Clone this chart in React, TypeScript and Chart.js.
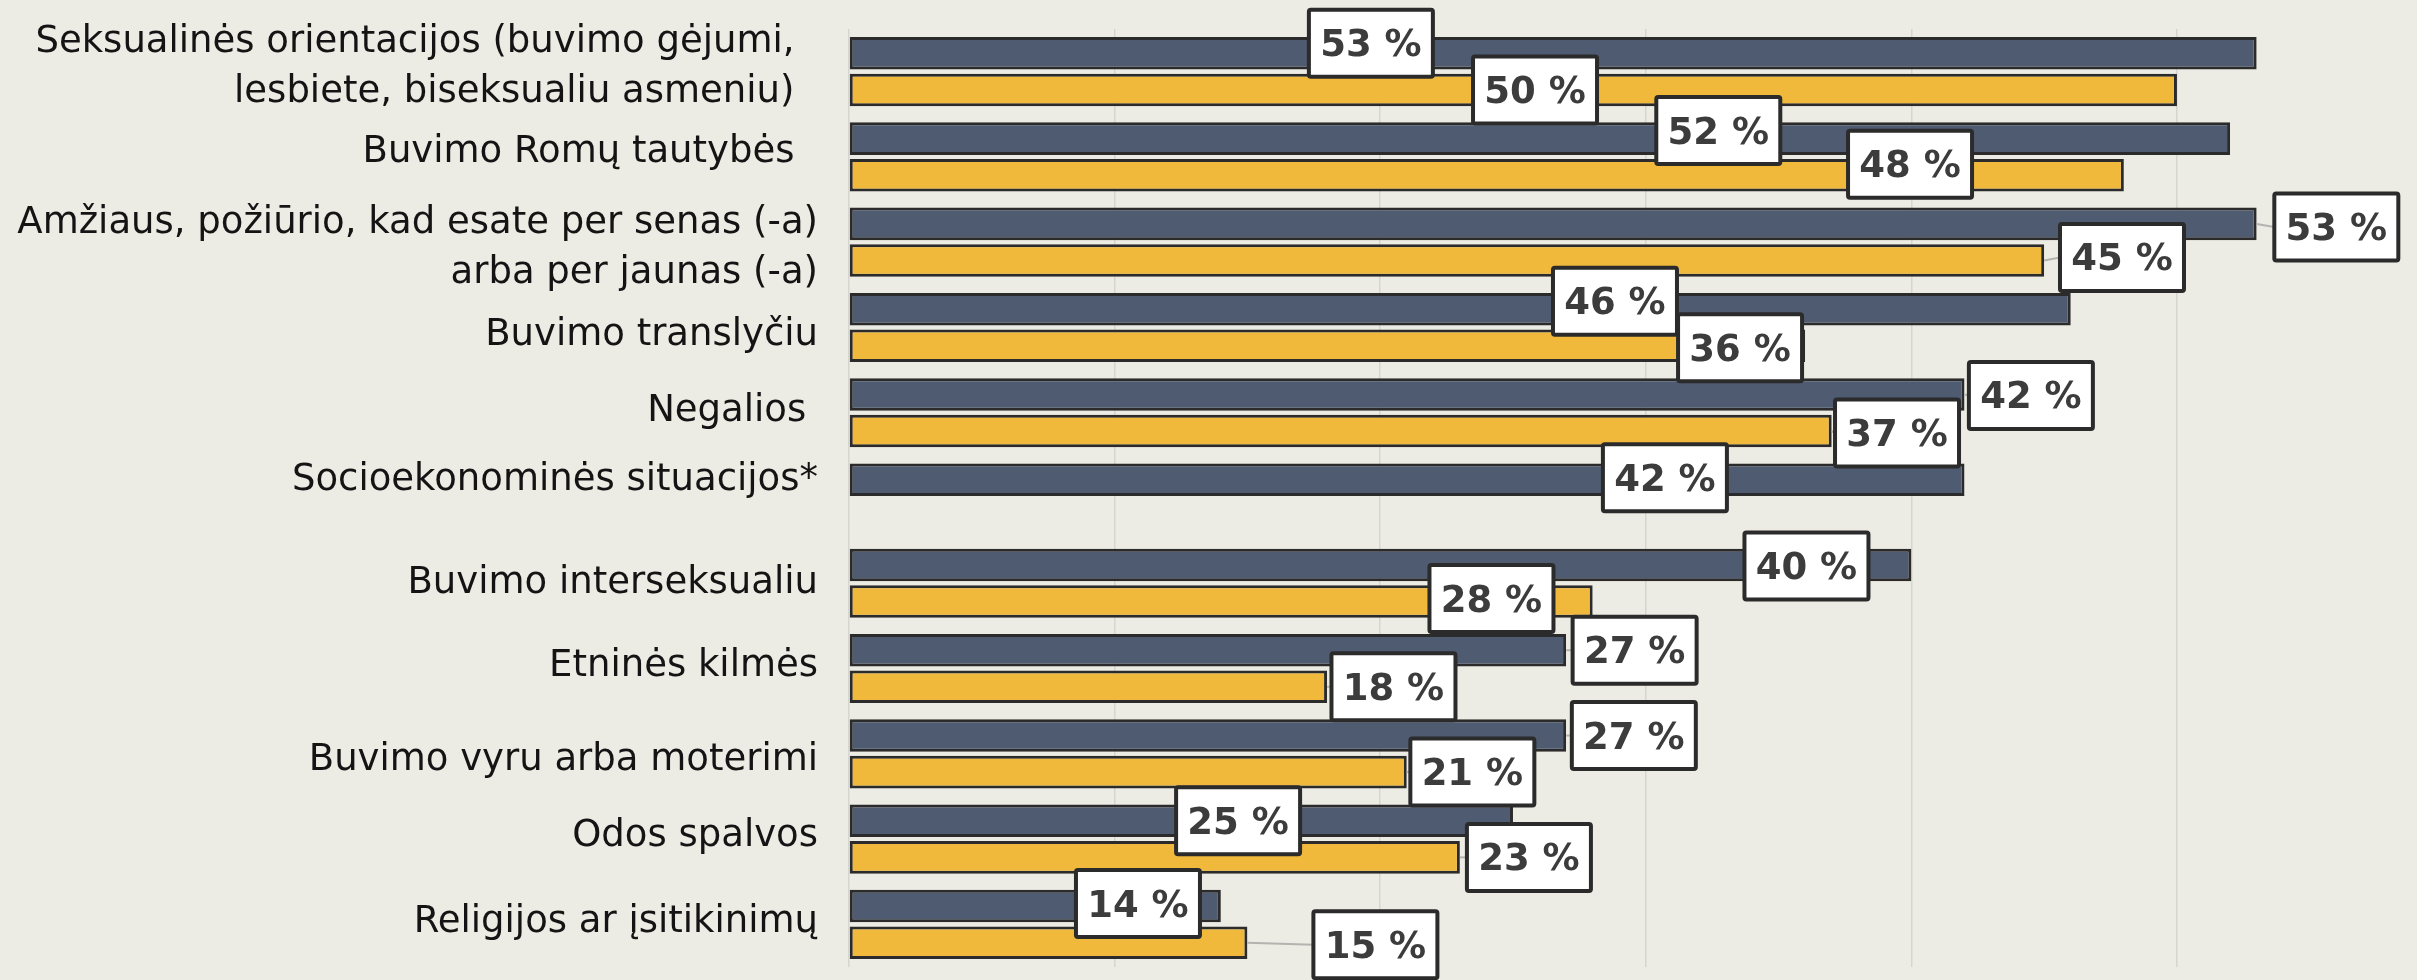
import React, { useEffect, useRef } from "react";
import { Chart, registerables } from "chart.js";

Chart.register(...registerables);

// ---- data ----
const categories: string[][] = [
  ["Seksualinės orientacijos (buvimo gėjumi,  ", "lesbiete, biseksualiu asmeniu)  "],
  ["Buvimo Romų tautybės  "],
  ["Amžiaus, požiūrio, kad esate per senas (-a)", "arba per jaunas (-a)"],
  ["Buvimo translyčiu"],
  ["Negalios "],
  ["Socioekonominės situacijos*"],
  ["Buvimo interseksualiu"],
  ["Etninės kilmės"],
  ["Buvimo vyru arba moterimi"],
  ["Odos spalvos"],
  ["Religijos ar įsitikinimų"],
];
const navyValues: (number | null)[] = [53, 52, 53, 46, 42, 42, 40, 27, 27, 25, 14];
const yellowValues: (number | null)[] = [50, 48, 45, 36, 37, null, 28, 18, 21, 23, 15];

// label placement (value-axis position of label centre, vertical nudge in px)
const navyLabelAt: (number | null)[] = [19.65, 32.73, 56.0, 28.84, 44.5, 30.72, 36.05, 29.58, 29.55, 14.65, 10.88];
const navyLabelDy: (number | null)[] = [-10, -8, 3, -8, 1, -2, 1, 0, 0, 0, -2.5];
const yellowLabelAt: (number | null)[] = [25.83, 39.95, 47.93, 33.55, 39.46, null, 24.19, 20.5, 23.47, 25.6, 19.82];
const yellowLabelDy: (number | null)[] = [0, -11, -3, 2, 2, null, -3, 0, 0, 0, 2];
const categoryLabelNudge: number[] = [-8, -8.6, 2, 4, -5, -22, -4, -6.5, 3, -7, -5.7];

// ---- styles ----
const BG = "#ecebe4";
const NAVY = "#4e5b70";
const YELLOW = "#f0b93b";
const BORDER = "#2b2b2b";
const GRID = "#d6d5d0";
const X_MAX = 59;
const AXIS_LEFT = 849;

export default function App() {
  const ref = useRef<HTMLCanvasElement>(null);

  useEffect(() => {
    const canvas = ref.current!;

    const drawBox = (ctx: CanvasRenderingContext2D, cx: number, cy: number, text: string) => {
      const w = 128;
      const h = 71;
      ctx.save();
      ctx.beginPath();
      const x0 = cx - w / 2 + 2;
      const y0 = cy - h / 2 + 2;
      if ((ctx as any).roundRect) (ctx as any).roundRect(x0, y0, w - 4, h - 4, 2);
      else ctx.rect(x0, y0, w - 4, h - 4);
      ctx.fillStyle = "#ffffff";
      ctx.fill();
      ctx.lineWidth = 4;
      ctx.strokeStyle = BORDER;
      ctx.stroke();
      ctx.fillStyle = "#3c3c3c";
      ctx.font = 'bold 37px "DejaVu Sans"';
      ctx.textAlign = "center";
      ctx.textBaseline = "alphabetic";
      ctx.fillText(text, cx, cy + 13);
      ctx.restore();
    };

    const labelPlugin = {
      id: "customLabels",
      afterDatasetsDraw(chart: any) {
        const ctx: CanvasRenderingContext2D = chart.ctx;
        const xs = chart.scales.x;
        const sets = [
          { meta: chart.getDatasetMeta(0), values: navyValues, at: navyLabelAt, dy: navyLabelDy },
          { meta: chart.getDatasetMeta(1), values: yellowValues, at: yellowLabelAt, dy: yellowLabelDy },
        ];
        const items: { cx: number; cy: number; text: string; endX: number; barY: number }[] = [];
        categories.forEach((_, i) => {
          sets.forEach((s) => {
            const v = s.values[i];
            const at = s.at[i];
            if (v == null || at == null) return;
            const bar = s.meta.data[i];
            items.push({
              cx: xs.getPixelForValue(at),
              cy: bar.y + (s.dy[i] || 0),
              text: `${v} %`,
              endX: bar.x,
              barY: bar.y,
            });
          });
        });
        // leader lines
        ctx.save();
        ctx.strokeStyle = "#b3b3b0";
        ctx.lineWidth = 2;
        items.forEach((it) => {
          const left = it.cx - 64;
          if (left > it.endX + 1) {
            ctx.beginPath();
            ctx.moveTo(it.endX, it.barY);
            ctx.lineTo(left + 2, it.cy);
            ctx.stroke();
          }
        });
        ctx.restore();
        items.forEach((it) => drawBox(ctx, it.cx, it.cy, it.text));
      },
      afterDraw(chart: any) {
        const ctx: CanvasRenderingContext2D = chart.ctx;
        const ys = chart.scales.y;
        ctx.save();
        ctx.font = '37px "DejaVu Sans"';
        ctx.fillStyle = "#141414";
        ctx.textAlign = "right";
        ctx.textBaseline = "alphabetic";
        const right = AXIS_LEFT - 31;
        categories.forEach((lines, i) => {
          const mid = ys.getPixelForValue(i) + categoryLabelNudge[i];
          const lh = 50;
          const start = mid - ((lines.length - 1) * lh) / 2;
          lines.forEach((line, k) => {
            ctx.fillText(line, right, start + k * lh + 13.5);
          });
        });
        ctx.restore();
      },
    };

    const chart = new Chart(canvas, {
      type: "bar",
      data: {
        labels: categories.map((c) => c.join(" ").trim()),
        datasets: [
          {
            label: "navy",
            data: navyValues,
            backgroundColor: NAVY,
            borderColor: BORDER,
            borderWidth: 3,
            borderSkipped: false,
            barPercentage: 0.89,
            categoryPercentage: 0.858,
          },
          {
            label: "yellow",
            data: yellowValues,
            backgroundColor: YELLOW,
            borderColor: BORDER,
            borderWidth: 3,
            borderSkipped: false,
            barPercentage: 0.89,
            categoryPercentage: 0.858,
          },
        ],
      },
      options: {
        indexAxis: "y",
        responsive: false,
        animation: false,
        layout: { padding: { top: 29, bottom: 13, left: 0, right: 1 } },
        plugins: { legend: { display: false }, tooltip: { enabled: false } },
        scales: {
          x: {
            min: 0,
            max: X_MAX,
            grid: { color: GRID, lineWidth: 1.5, drawTicks: false },
            border: { display: false },
            ticks: { display: false, stepSize: 10, includeBounds: false } as any,
          },
          y: {
            grid: { display: false, drawTicks: false },
            border: { display: false },
            ticks: { display: false },
            afterFit: (s: any) => {
              s.width = AXIS_LEFT;
            },
          },
        },
      } as any,
      plugins: [labelPlugin],
    });
    return () => chart.destroy();
  }, []);

  return (
    <div style={{ position: "fixed", left: 0, top: 0, width: 2417, height: 980, background: BG }}>
      <canvas ref={ref} width={2417} height={980} style={{ display: "block", width: 2417, height: 980 }} />
    </div>
  );
}
